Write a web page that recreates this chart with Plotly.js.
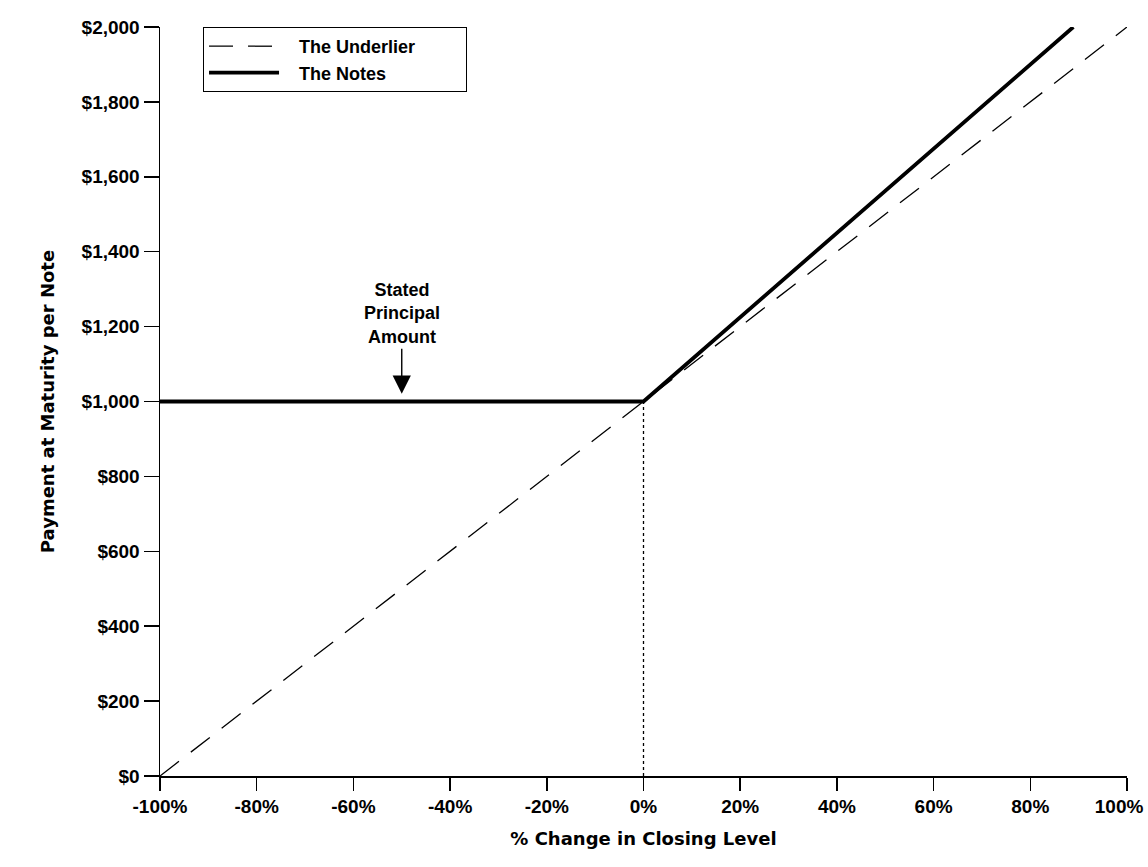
<!DOCTYPE html>
<html>
<head>
<meta charset="utf-8">
<script src="https://cdn.plot.ly/plotly-3.0.1.min.js"></script>
<style>
  html, body { margin: 0; padding: 0; background: #fff; }
  #chart { width: 1148px; height: 867px; }
</style>
</head>
<body>
<div id="chart"></div>
<script>
// % change in closing level of the underlier
var underlierX = [-100, 0, 100];
var underlierY = [0, 1000, 2000];

// payment on the notes: principal protected, ~112.5% upside participation
var notesX = [-100, 0, 88.9];
var notesY = [1000, 1000, 2000];

// dotted guide at 0%
var guideX = [0, 0];
var guideY = [0, 1000];

var xTicks = [-100, -80, -60, -40, -20, 0, 20, 40, 60, 80, 100];
// last label padded so it sits inside the page like the original
var xLabels = ['-100%', '-80%', '-60%', '-40%', '-20%', '0%', '20%', '40%', '60%', '80%', '100%&nbsp;&nbsp;&nbsp;'];
var yTicks = [0, 200, 400, 600, 800, 1000, 1200, 1400, 1600, 1800, 2000];
var yLabels = ['$0', '$200', '$400', '$600', '$800', '$1,000', '$1,200', '$1,400', '$1,600', '$1,800', '$2,000'];

var font = 'Liberation Sans, Arial, sans-serif';
var titleFont = 'DejaVu Sans, Liberation Sans, sans-serif';
var sp = '&nbsp;&nbsp;&nbsp;';

var data = [
  {
    x: underlierX, y: underlierY,
    type: 'scatter', mode: 'lines',
    name: sp + 'The Underlier' + sp + sp + '&nbsp;&nbsp;&nbsp;',
    line: {color: '#000', width: 1.3, dash: '24px,15px'}
  },
  {
    x: notesX, y: notesY,
    type: 'scatter', mode: 'lines',
    name: sp + 'The Notes',
    line: {color: '#000', width: 3.8}
  },
  {
    x: guideX, y: guideY,
    type: 'scatter', mode: 'lines',
    showlegend: false, hoverinfo: 'skip',
    line: {color: '#000', width: 1.3, dash: 'dot'}
  }
];

var layout = {
  width: 1148,
  height: 867,
  margin: {l: 160, r: 21, t: 27, b: 91},
  paper_bgcolor: '#fff',
  plot_bgcolor: '#fff',
  font: {family: font, size: 18, color: '#000', weight: 'bold'},
  showlegend: true,
  legend: {
    x: 0.0445, y: 1, xanchor: 'left', yanchor: 'top',
    bordercolor: '#000', borderwidth: 1,
    itemwidth: 70,
    tracegroupgap: 0,
    font: {family: font, size: 18, color: '#000', weight: 'bold'}
  },
  xaxis: {
    range: [-100, 100],
    tickmode: 'array', tickvals: xTicks, ticktext: xLabels,
    ticks: 'outside', ticklen: 13, tickwidth: 1.5, tickcolor: '#000',
    ticklabeloverflow: 'allow',
    showline: true, linecolor: '#000', linewidth: 1.5,
    showgrid: false, zeroline: false,
    tickfont: {family: font, size: 19, color: '#000', weight: 'bold'},
    title: {text: '% Change in Closing Level', standoff: 16,
            font: {family: titleFont, size: 18, color: '#000', weight: 'bold'}}
  },
  yaxis: {
    range: [0, 2000],
    tickmode: 'array', tickvals: yTicks, ticktext: yLabels,
    ticks: 'outside', ticklen: 15, tickwidth: 1.5, tickcolor: '#000',
    showline: true, linecolor: '#000', linewidth: 1.5,
    showgrid: false, zeroline: false,
    tickfont: {family: font, size: 19, color: '#000', weight: 'bold'},
    title: {text: 'Payment at Maturity per Note', standoff: 22,
            font: {family: titleFont, size: 18, color: '#000', weight: 'bold'}}
  },
  annotations: [{
    x: -50, y: 1021, xref: 'x', yref: 'y',
    text: 'Stated<br>Principal<br>Amount',
    showarrow: true, ax: 0, ay: -80,
    arrowhead: 2, arrowsize: 2.6, arrowwidth: 1.4, arrowcolor: '#000',
    font: {family: font, size: 18, color: '#000', weight: 'bold'}
  }]
};

Plotly.newPlot('chart', data, layout, {displayModeBar: false, staticPlot: true});
</script>
</body>
</html>
